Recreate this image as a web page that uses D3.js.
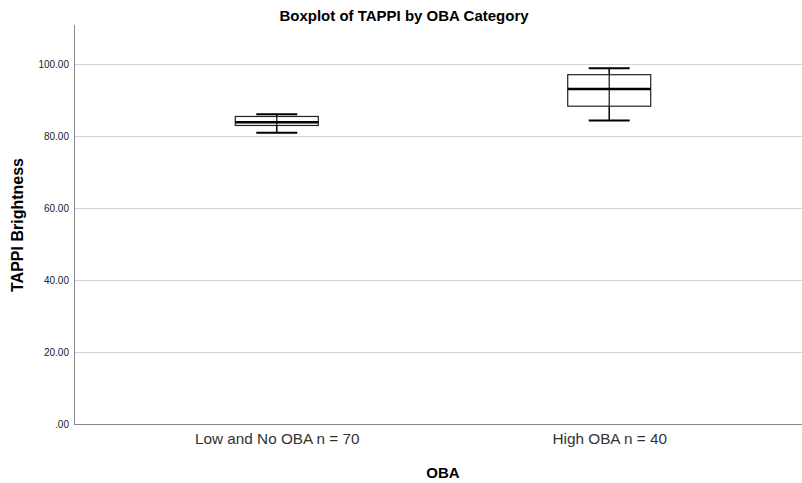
<!DOCTYPE html>
<html><head><meta charset="utf-8">
<script src="https://cdn.jsdelivr.net/npm/d3@7/dist/d3.min.js"></script>
<style>body{margin:0;background:#fff}</style>
</head><body>
<svg id="c" width="802" height="483"></svg>
<script>
const categories = ["Low and No OBA n = 70", "High OBA n = 40"];
const whiskerLow = [80.9, 84.25];
const q1 = [82.9, 88.25];
const median = [83.8, 93.0];
const q3 = [85.4, 97.0];
const whiskerHigh = [86.0, 98.8];
const yTicks = [0, 20, 40, 60, 80, 100];

(function () {
const svg = d3.select("#c");
const FONT = "Liberation Sans, Arial, sans-serif";
const mL = 74, mR = 802, mT = 25, mB = 424;
const y = d3.scaleLinear().domain([0, 110.8]).range([mB, mT]);
const x = d3.scalePoint().domain(categories).range([mL, 812]).padding(0.61);

// gridlines
svg.append("g").selectAll("line").data(yTicks.filter(d => d > 0)).join("line")
  .attr("x1", mL).attr("x2", mR).attr("y1", d => Math.round(y(d)) + 0.5).attr("y2", d => Math.round(y(d)) + 0.5)
  .attr("stroke", "#d4d4d4").attr("stroke-width", 1);

// y axis
const fmt = d => { const s = d3.format(".2f")(d); return s.startsWith("0") ? s.slice(1) : s; };
const ya = svg.append("g").attr("transform", `translate(${mL},0)`)
  .call(d3.axisLeft(y).tickValues(yTicks).tickFormat(fmt).tickSize(0).tickPadding(5));
ya.select(".domain").remove();
ya.selectAll("text").attr("font-family", FONT).attr("font-size", 10).attr("fill", "#222");
svg.append("line").attr("x1", mL + 0.5).attr("x2", mL + 0.5).attr("y1", mT).attr("y2", mB)
  .attr("stroke", "#888").attr("stroke-width", 1);

// x axis
const xa = svg.append("g").attr("transform", `translate(0,${mB})`)
  .call(d3.axisBottom(x).tickSize(0).tickPadding(9));
xa.select(".domain").remove();
xa.selectAll("text").attr("font-family", FONT).attr("font-size", 15.3).attr("fill", "#333");
svg.append("line").attr("x1", mL).attr("x2", mR).attr("y1", mB + 0.5).attr("y2", mB + 0.5)
  .attr("stroke", "#888").attr("stroke-width", 1);

// boxes
const boxW = 83, capW = 41;
const g = svg.append("g");
categories.forEach((c, i) => {
  const cx = x(c);
  g.append("line").attr("x1", cx).attr("x2", cx).attr("y1", y(whiskerLow[i])).attr("y2", y(whiskerHigh[i]))
    .attr("stroke", "#000").attr("stroke-width", 1.5);
  [whiskerLow[i], whiskerHigh[i]].forEach(v => {
    g.append("line").attr("x1", cx - capW / 2).attr("x2", cx + capW / 2).attr("y1", y(v)).attr("y2", y(v))
      .attr("stroke", "#000").attr("stroke-width", 2);
  });
  g.append("rect").attr("x", cx - boxW / 2).attr("width", boxW)
    .attr("y", y(q3[i])).attr("height", y(q1[i]) - y(q3[i]))
    .attr("fill", "#fff").attr("stroke", "#222").attr("stroke-width", 1.2);
  g.append("line").attr("x1", cx).attr("x2", cx).attr("y1", y(q1[i])).attr("y2", y(q3[i]))
    .attr("stroke", "#111").attr("stroke-width", 1.2);
  g.append("line").attr("x1", cx - boxW / 2).attr("x2", cx + boxW / 2).attr("y1", y(median[i])).attr("y2", y(median[i]))
    .attr("stroke", "#000").attr("stroke-width", 2.5);
});

// titles
svg.append("text").attr("x", 404).attr("y", 21).attr("text-anchor", "middle")
  .attr("font-family", FONT).attr("font-size", 15).attr("font-weight", "bold")
  .text("Boxplot of TAPPI by OBA Category");
svg.append("text").attr("x", 443).attr("y", 478).attr("text-anchor", "middle")
  .attr("font-family", FONT).attr("font-size", 15).attr("font-weight", "bold")
  .text("OBA");
svg.append("text").attr("transform", "translate(23,225) rotate(-90)").attr("text-anchor", "middle")
  .attr("font-family", FONT).attr("font-size", 16).attr("font-weight", "bold")
  .text("TAPPI Brightness");
})();
</script>
</body></html>
